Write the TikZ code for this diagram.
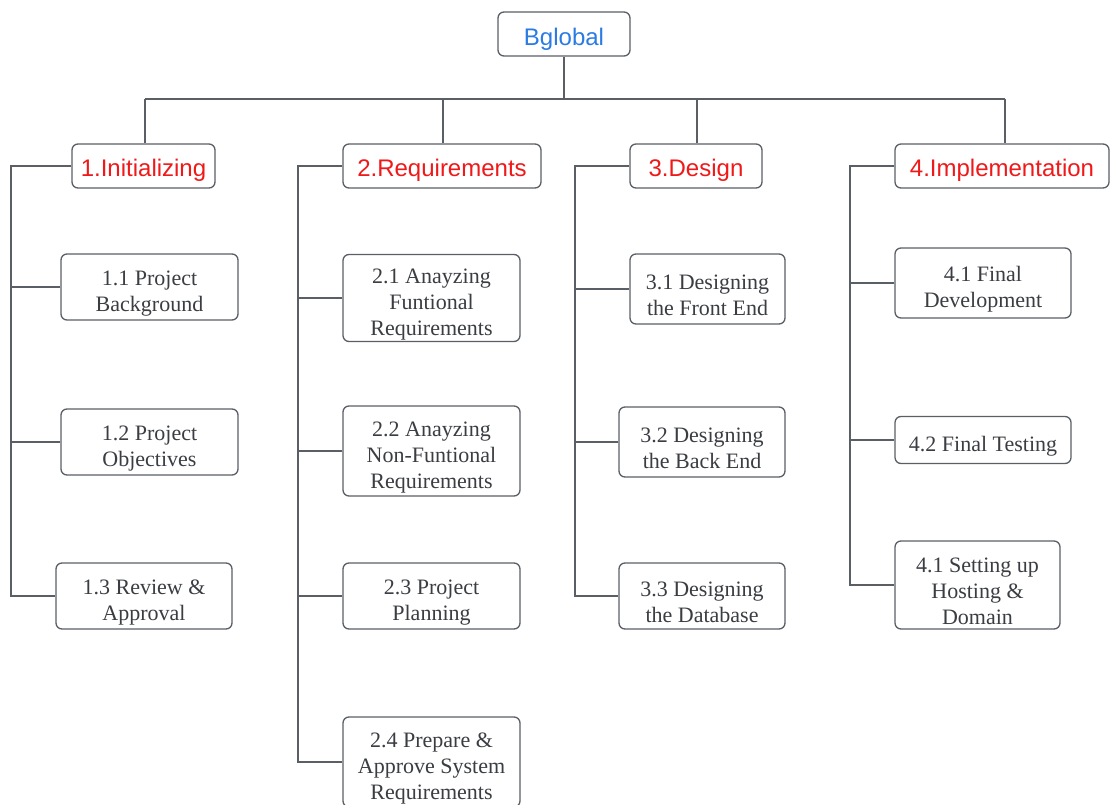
\documentclass[tikz,border=0pt]{standalone}
\usepackage{fontspec}
\setmainfont{Liberation Serif}
\newfontfamily\headfont{Liberation Sans}
\definecolor{linegray}{HTML}{5A5F66}
\definecolor{textgray}{HTML}{3A3D42}
\definecolor{headred}{HTML}{F01818}
\definecolor{headblue}{HTML}{2A7BE4}
% a rounded box (name, x, y, width, height) with its caption set a little low
\newcommand\wbsbox[7]{%
  \node[#1, minimum width=#5pt, minimum height=#6pt] (#2) at (#3,#4) {};
  \node[#1text] (#2t) at ([yshift=-\csname #1drop\endcsname]#2.center) {#7};}
\newcommand\headdrop{4pt}
\newcommand\rootdrop{5pt}
\newcommand\taskdrop{6.5pt}
\begin{document}
\begin{tikzpicture}[x=1pt,y=-1pt,
  box/.style={draw=linegray, line width=1.3pt, rounded corners=6pt, fill=white, inner sep=0pt},
  root/.style={box}, head/.style={box}, task/.style={box},
  roottext/.style={font=\headfont\fontsize{24}{28}\selectfont, text=headblue, inner sep=0pt},
  headtext/.style={font=\headfont\fontsize{24}{28}\selectfont, text=headred, inner sep=0pt},
  tasktext/.style={font=\fontsize{22}{26}\selectfont, text=textgray, align=center, inner sep=0pt},
  wire/.style={draw=linegray, line width=1.3pt}
]
\useasboundingbox (0,0) rectangle (1110,805);

% root
\wbsbox{root}{root}{564}{34}{132}{44}{Bglobal}

% phases
\wbsbox{head}{p1}{143.5}{166}{143}{44}{1.Initializing}
\wbsbox{head}{p2}{442}{166}{198}{44}{2.Requirements}
\wbsbox{head}{p3}{696}{166}{132}{44}{3.Design}
\wbsbox{head}{p4}{1002}{166}{214}{44}{4.Implementation}

% tasks of phase 1
\wbsbox{task}{c11}{149.5}{287}{177}{66}{1.1 Project\\Background}
\wbsbox{task}{c12}{149.5}{442}{177}{66}{1.2 Project\\Objectives}
\wbsbox{task}{c13}{144}{596}{176}{66}{1.3 Review \&\\Approval}

% tasks of phase 2
\wbsbox{task}{c21}{431.5}{298}{177}{87}{2.1 Anayzing\\Funtional\\Requirements}
\wbsbox{task}{c22}{431.5}{451}{177}{90}{2.2 Anayzing\\Non-Funtional\\Requirements}
\wbsbox{task}{c23}{431.5}{596}{177}{66}{2.3 Project\\Planning}
\wbsbox{task}{c24}{431.5}{762}{177}{90}{2.4 Prepare \&\\Approve System\\Requirements}

% tasks of phase 3
\wbsbox{task}{c31}{707.5}{289}{155}{70}{3.1 Designing\\the Front End}
\wbsbox{task}{c32}{702}{442}{166}{70}{3.2 Designing\\the Back End}
\wbsbox{task}{c33}{702}{596}{166}{66}{3.3 Designing\\the Database}

% tasks of phase 4
\wbsbox{task}{c41}{983}{283}{176}{70}{4.1 Final\\Development}
\wbsbox{task}{c42}{983}{440}{176}{47}{4.2 Final Testing}
\wbsbox{task}{c43}{977.5}{585}{165}{88}{4.1 Setting up\\Hosting \&\\Domain}

% top bus
\coordinate (busL) at (145,99);
\coordinate (busR) at (1005,99);
\coordinate (bus2) at (443,99);
\coordinate (bus3) at (697,99);
\path[wire] (root.south) -- (root.south |- busL);
\path[wire] (busL) -- (busR);
\path[wire] (busL) -- (busL |- p1.north);
\path[wire] (bus2) -- (bus2 |- p2.north);
\path[wire] (bus3) -- (bus3 |- p3.north);
\path[wire] (busR) -- (busR |- p4.north);

% side rails
\coordinate (r1) at (11,0);
\coordinate (r2) at (298,0);
\coordinate (r3) at (575,0);
\coordinate (r4) at (850,0);
\path[wire] (p1.west) -- (r1 |- p1.west) -- (r1 |- c13.west) -- (c13.west);
\path[wire] (p2.west) -- (r2 |- p2.west) -- (r2 |- c24.west) -- (c24.west);
\path[wire] (p3.west) -- (r3 |- p3.west) -- (r3 |- c33.west) -- (c33.west);
\path[wire] (p4.west) -- (r4 |- p4.west) -- (r4 |- c43.west) -- (c43.west);

% branches
\path[wire] (c11.west) -- (r1 |- c11.west);
\path[wire] (c12.west) -- (r1 |- c12.west);
\path[wire] (c21.west) -- (r2 |- c21.west);
\path[wire] (c22.west) -- (r2 |- c22.west);
\path[wire] (c23.west) -- (r2 |- c23.west);
\path[wire] (c31.west) -- (r3 |- c31.west);
\path[wire] (c32.west) -- (r3 |- c32.west);
\path[wire] (c41.west) -- (r4 |- c41.west);
\path[wire] (c42.west) -- (r4 |- c42.west);
\end{tikzpicture}
\end{document}
